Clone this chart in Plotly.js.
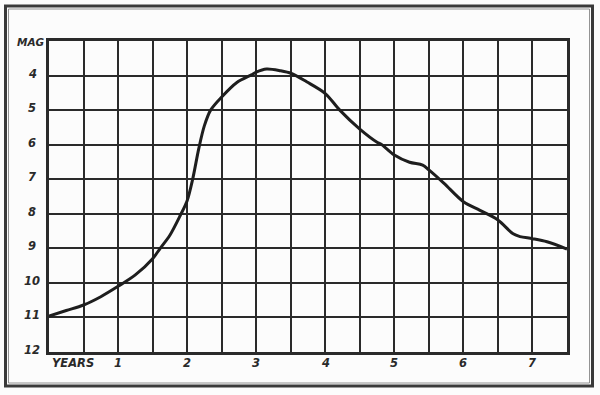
<!DOCTYPE html>
<html>
<head>
<meta charset="utf-8">
<script src="https://cdn.plot.ly/plotly-3.0.1.min.js"></script>
<style>html,body{margin:0;padding:0;background:#fcfcfc;}#chart{width:600px;height:395px;}</style>
</head>
<body>
<div id="chart"></div>
<script>
// Light curve: years since outburst vs magnitude
const years = [0.00, 0.25, 0.50, 0.75, 1.00, 1.25, 1.50, 1.61, 1.75, 1.90, 2.00, 2.08, 2.17, 2.25, 2.34, 2.50, 2.72, 2.93, 3.00, 3.15, 3.35, 3.51, 3.73, 4.00, 4.21, 4.50, 4.75, 4.82, 5.00, 5.22, 5.41, 5.50, 5.72, 6.00, 6.24, 6.50, 6.72, 6.82, 7.00, 7.21, 7.50];
const mags  = [10.96, 10.80, 10.64, 10.40, 10.10, 9.77, 9.30, 9.00, 8.62, 8.05, 7.62, 7.00, 6.10, 5.45, 5.00, 4.62, 4.20, 3.98, 3.90, 3.81, 3.86, 3.94, 4.18, 4.52, 5.00, 5.55, 5.93, 6.00, 6.30, 6.51, 6.59, 6.73, 7.12, 7.65, 7.90, 8.18, 8.58, 8.66, 8.72, 8.81, 9.02];

const magTicks  = [3, 4, 5, 6, 7, 8, 9, 10, 11, 12];
const magLabels = ['MAG', '4', '5', '6', '7', '8', '9', '10', '11', '12'];
const yearTicks  = [0.35, 1, 2, 3, 4, 5, 6, 7];
const yearLabels = ['YEARS', '1', '2', '3', '4', '5', '6', '7'];

const ink = '#2a2a2a';
const labelFont = {family: 'DejaVu Sans', size: 11.5, color: ink, weight: 'bold', style: 'italic'};
const magFont = {family: 'DejaVu Sans', size: 10.5, color: ink, weight: 'bold', style: 'italic'};

// plot area in pixels: left 49, right 567, top 41, bottom 352
const L = 49, R = 567, T = 41, B = 352;
const px = v => (v - L) / (R - L);
const py = v => (B - v) / (B - T);

const annotations = [];
magTicks.forEach((m, i) => annotations.push({
  xref: 'paper', yref: 'y', x: px(i === 0 ? 30.5 : 32), y: m, text: magLabels[i],
  showarrow: false, xanchor: 'center', yanchor: 'middle', yshift: i === 0 ? -1 : 2,
  font: i === 0 ? magFont : labelFont
}));
yearTicks.forEach((t, i) => annotations.push({
  xref: 'x', yref: 'paper', x: t, y: py(363), text: yearLabels[i],
  showarrow: false, xanchor: 'center', yanchor: 'middle', font: labelFont
}));

const shapes = [
  {type: 'rect', xref: 'paper', yref: 'paper', x0: px(5.5), x1: px(592.5), y0: py(386), y1: py(6), line: {color: '#3a3a3a', width: 3}},
  {type: 'rect', xref: 'paper', yref: 'paper', x0: px(8.5), x1: px(589.5), y0: py(383), y1: py(9), line: {color: '#777', width: 0.8}}
];

const trace = {
  x: years, y: mags, type: 'scatter', mode: 'lines',
  line: {color: '#1e1e1e', width: 3, shape: 'spline', smoothing: 0.9},
  hoverinfo: 'skip'
};

const layout = {
  width: 600, height: 395,
  margin: {l: L, r: 600 - R, t: T, b: 395 - B, pad: 0},
  paper_bgcolor: '#fcfcfc', plot_bgcolor: '#fcfcfc',
  showlegend: false,
  xaxis: {
    range: [0, 7.5], tick0: 0, dtick: 0.5, showticklabels: false, ticks: '',
    showgrid: true, gridcolor: ink, gridwidth: 2, zeroline: false,
    showline: true, linecolor: ink, linewidth: 3, mirror: true
  },
  yaxis: {
    range: [12, 3], tick0: 3, dtick: 1, showticklabels: false, ticks: '',
    showgrid: true, gridcolor: ink, gridwidth: 2, zeroline: false,
    showline: true, linecolor: ink, linewidth: 3, mirror: true
  },
  annotations: annotations,
  shapes: shapes
};

Plotly.newPlot('chart', [trace], layout, {displayModeBar: false, staticPlot: true});
</script>
</body>
</html>
